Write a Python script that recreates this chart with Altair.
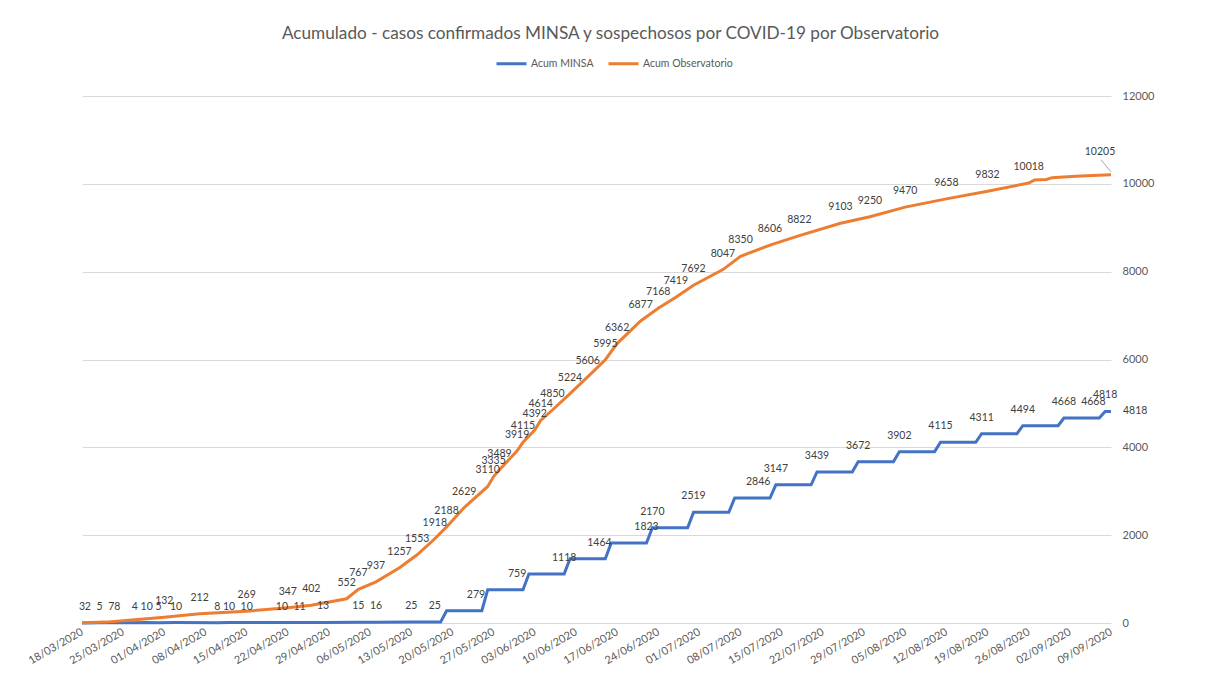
import altair as alt
import pandas as pd

FONT = "Lato"
TEXT_GREY = "#595959"
LABEL_GREY = "#404040"

title_text = "Acumulado - casos confirmados MINSA y sospechosos por COVID-19 por Observatorio"
series_names = ["Acum MINSA", "Acum Observatorio"]
series_colors = ["#4472C4", "#ED7D31"]

tick_labels = ["18/03/2020", "25/03/2020", "01/04/2020", "08/04/2020", "15/04/2020",
               "22/04/2020", "29/04/2020", "06/05/2020", "13/05/2020", "20/05/2020",
               "27/05/2020", "03/06/2020", "10/06/2020", "17/06/2020", "24/06/2020",
               "01/07/2020", "08/07/2020", "15/07/2020", "22/07/2020", "29/07/2020",
               "05/08/2020", "12/08/2020", "19/08/2020", "26/08/2020", "02/09/2020",
               "09/09/2020"]
y_ticks = [0, 2000, 4000, 6000, 8000, 10000, 12000]

# Acum Observatorio (show=1 -> data label drawn)
obs_dates = ["2020-03-18", "2020-03-22", "2020-03-25", "2020-03-28", "2020-04-01",
             "2020-04-07", "2020-04-15", "2020-04-22", "2020-04-26", "2020-05-02",
             "2020-05-04", "2020-05-07", "2020-05-11", "2020-05-14", "2020-05-17",
             "2020-05-19", "2020-05-22", "2020-05-26", "2020-05-27", "2020-05-28",
             "2020-05-31", "2020-06-01", "2020-06-03", "2020-06-04", "2020-06-06",
             "2020-06-09", "2020-06-12", "2020-06-15", "2020-06-17", "2020-06-21",
             "2020-06-24", "2020-06-27", "2020-06-30", "2020-07-05", "2020-07-08",
             "2020-07-13", "2020-07-18", "2020-07-25", "2020-07-30", "2020-08-05",
             "2020-08-12", "2020-08-19", "2020-08-26", "2020-08-27", "2020-08-29",
             "2020-08-30", "2020-09-03", "2020-09-07", "2020-09-09"]
obs_values = [3, 20, 50, 85, 132,
              212, 269, 347, 402, 552,
              767, 937, 1257, 1553, 1918,
              2188, 2629, 3110, 3335, 3489,
              3919, 4115, 4392, 4614, 4850,
              5224, 5606, 5995, 6362, 6877,
              7168, 7419, 7692, 8047, 8350,
              8606, 8822, 9103, 9250, 9470,
              9658, 9832, 10018, 10090, 10100,
              10140, 10170, 10195, 10205]
obs_show = [1, 0, 0, 0, 1,
            1, 1, 1, 1, 1,
            1, 1, 1, 1, 1,
            1, 1, 1, 1, 1,
            1, 1, 1, 1, 1,
            1, 1, 1, 1, 1,
            1, 1, 1, 1, 1,
            1, 1, 1, 1, 1,
            1, 1, 1, 0, 0,
            0, 0, 0, 2]

# Acum MINSA line
minsa_dates = ["2020-03-18", "2020-03-19", "2020-03-21", "2020-03-23", "2020-03-24",
               "2020-03-27", "2020-03-29", "2020-03-31", "2020-04-03", "2020-04-10",
               "2020-04-12", "2020-04-15", "2020-04-21", "2020-04-24", "2020-04-28",
               "2020-05-04", "2020-05-07", "2020-05-13", "2020-05-18", "2020-05-19",
               "2020-05-25", "2020-05-26", "2020-06-01", "2020-06-02", "2020-06-08",
               "2020-06-09", "2020-06-15", "2020-06-16", "2020-06-22", "2020-06-23",
               "2020-06-29", "2020-06-30", "2020-07-06", "2020-07-07", "2020-07-13",
               "2020-07-14", "2020-07-20", "2020-07-21", "2020-07-27", "2020-07-28",
               "2020-08-03", "2020-08-04", "2020-08-10", "2020-08-11", "2020-08-17",
               "2020-08-18", "2020-08-24", "2020-08-25", "2020-08-31", "2020-09-01",
               "2020-09-07", "2020-09-08", "2020-09-09"]
minsa_values = [2, 2, 5, 7, 8,
                4, 10, 5, 10, 8,
                10, 10, 10, 11, 13,
                15, 16, 25, 25, 279,
                279, 759, 759, 1118, 1118,
                1464, 1464, 1823, 1823, 2170,
                2170, 2519, 2519, 2846, 2846,
                3147, 3147, 3439, 3439, 3672,
                3672, 3902, 3902, 4115, 4115,
                4311, 4311, 4494, 4494, 4668,
                4668, 4818, 4818]

# Acum MINSA data labels
minsa_label_dates = ["2020-03-19", "2020-03-21", "2020-03-23", "2020-03-24", "2020-03-27",
                     "2020-03-29", "2020-03-31", "2020-04-03", "2020-04-10", "2020-04-12",
                     "2020-04-15", "2020-04-21", "2020-04-24", "2020-04-28", "2020-05-04",
                     "2020-05-07", "2020-05-13", "2020-05-17", "2020-05-24", "2020-05-31",
                     "2020-06-08", "2020-06-14", "2020-06-22", "2020-06-23", "2020-06-30",
                     "2020-07-11", "2020-07-14", "2020-07-21", "2020-07-28", "2020-08-04",
                     "2020-08-11", "2020-08-18", "2020-08-25", "2020-09-01", "2020-09-06",
                     "2020-09-08"]
minsa_label_values = [2, 5, 7, 8, 4,
                      10, 5, 10, 8, 10,
                      10, 10, 11, 13, 15,
                      16, 25, 25, 279, 759,
                      1118, 1464, 1823, 2170, 2519,
                      2846, 3147, 3439, 3672, 3902,
                      4115, 4311, 4494, 4668, 4668,
                      4818]
minsa_last_date = ["2020-09-09"]
minsa_last_value = [4818]

START = pd.Timestamp("2020-03-18")


def to_day(dates):
    return [int((pd.Timestamp(d) - START).days) for d in dates]


tick_days = [int((pd.to_datetime(t, format="%d/%m/%Y") - START).days) for t in tick_labels]

obs_df = pd.DataFrame({"day": to_day(obs_dates), "value": obs_values, "show": obs_show,
                       "series": series_names[1]})
minsa_df = pd.DataFrame({"day": to_day(minsa_dates), "value": minsa_values,
                         "series": series_names[0]})
lines_df = pd.concat([minsa_df, obs_df[["day", "value", "series"]]], ignore_index=True)

obs_lab_df = obs_df[obs_df["show"] == 1]
obs_last_df = obs_df[obs_df["show"] == 2]
minsa_lab_df = pd.DataFrame({"day": to_day(minsa_label_dates), "value": minsa_label_values})
minsa_last_df = pd.DataFrame({"day": to_day(minsa_last_date), "value": minsa_last_value})

label_js = "[" + ",".join("'" + t + "'" for t in tick_labels) + "]"

x_enc = alt.X(
    "day:Q",
    title=None,
    scale=alt.Scale(domain=[0, 175], nice=False, zero=False),
    axis=alt.Axis(values=tick_days, labelExpr=label_js + "[round(datum.value / 7)]",
                  labelAngle=-30, labelAlign="right", labelBaseline="middle",
                  labelPadding=8, ticks=False, domain=False, grid=False,
                  labelColor=TEXT_GREY, labelFont=FONT, labelFontSize=11,
                  labelOverlap=False, labelBound=False, labelFlush=False),
)
y_enc = alt.Y(
    "value:Q",
    title=None,
    scale=alt.Scale(domain=[0, 12000], nice=False),
    axis=alt.Axis(orient="right", values=y_ticks, format="d", grid=True,
                  gridColor="#d9d9d9", gridWidth=1, domain=False, ticks=False,
                  labelPadding=11, labelAlign="left", labelColor=TEXT_GREY,
                  labelFont=FONT, labelFontSize=11, labelFlush=False),
)

lines = alt.Chart(lines_df).mark_line(strokeWidth=3).encode(
    x=x_enc,
    y=y_enc,
    color=alt.Color(
        "series:N",
        scale=alt.Scale(domain=series_names, range=series_colors),
        legend=alt.Legend(orient="none", legendX=413, legendY=-49, direction="horizontal",
                          title=None, symbolType="stroke", symbolSize=900,
                          symbolStrokeWidth=3, labelFont=FONT, labelFontSize=10.5,
                          labelColor=TEXT_GREY, columnPadding=8, labelOffset=3),
    ),
    order=alt.Order("day:Q"),
)

text_style = dict(font=FONT, fontSize=10.5, color=LABEL_GREY, baseline="middle")

obs_labels = alt.Chart(obs_lab_df).mark_text(dy=-16, align="center", **text_style).encode(
    x="day:Q", y="value:Q", text=alt.Text("value:Q", format="d"))
obs_last = alt.Chart(obs_last_df).mark_text(dx=-11, dy=-23, align="center", **text_style).encode(
    x="day:Q", y="value:Q", text=alt.Text("value:Q", format="d"))
obs_leader = alt.Chart(obs_last_df).mark_rule(
    color="#a6a6a6", strokeWidth=1, xOffset=-10, yOffset=-15, x2Offset=0, y2Offset=-3
).encode(x="day:Q", y="value:Q", x2="day:Q", y2="value:Q")
minsa_labels = alt.Chart(minsa_lab_df).mark_text(dy=-16, align="center", **text_style).encode(
    x="day:Q", y="value:Q", text=alt.Text("value:Q", format="d"))
minsa_last = alt.Chart(minsa_last_df).mark_text(dx=12, dy=0, align="left", **text_style).encode(
    x="day:Q", y="value:Q", text=alt.Text("value:Q", format="d"))

chart = alt.layer(lines, obs_leader, obs_labels, obs_last, minsa_labels, minsa_last).properties(
    width=1029,
    height=527,
    title=alt.TitleParams(title_text, font=FONT, fontSize=17.2, fontWeight="normal",
                          color=TEXT_GREY, anchor="middle", offset=5, dx=14),
    padding={"left": 74, "top": 88, "right": 88, "bottom": 42},
    autosize="none",
    background="white",
).configure_view(stroke=None)

chart.save("out.html", embed_options={"renderer": "svg", "actions": False})
